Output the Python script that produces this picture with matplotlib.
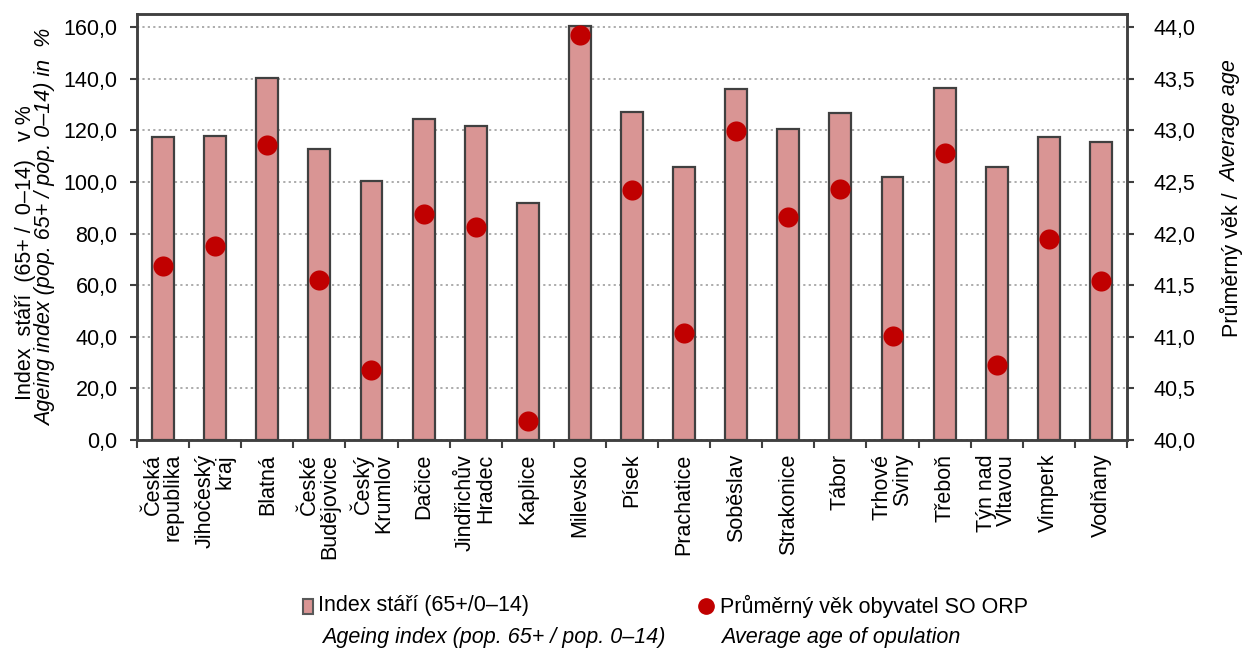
import matplotlib
matplotlib.use("Agg")
import matplotlib.pyplot as plt
from matplotlib.ticker import FuncFormatter, FixedLocator
from matplotlib.patches import Rectangle
from matplotlib.lines import Line2D

plt.rcParams['font.family'] = ['Liberation Sans', 'DejaVu Sans']

categories = ["Česká\nrepublika", "Jihočeský\nkraj", "Blatná", "České\nBudějovice",
              "Český\nKrumlov", "Dačice", "Jindřichův\nHradec", "Kaplice", "Milevsko",
              "Písek", "Prachatice", "Soběslav", "Strakonice", "Tábor", "Trhové\nSviny",
              "Třeboň", "Týn nad\nVltavou", "Vimperk", "Vodňany"]
ageing_index = [117.3, 117.9, 140.4, 112.6, 100.2, 124.3, 121.8, 91.8, 160.5,
                127.2, 105.7, 135.9, 120.4, 126.6, 101.8, 136.5, 105.7, 117.3, 115.6]
average_age = [41.69, 41.88, 42.86, 41.55, 40.68, 42.19, 42.06, 40.18, 43.92,
               42.42, 41.04, 42.99, 42.16, 42.43, 41.01, 42.78, 40.73, 41.95, 41.54]
left_ticks = [0, 20, 40, 60, 80, 100, 120, 140, 160]
right_ticks = [40.0, 40.5, 41.0, 41.5, 42.0, 42.5, 43.0, 43.5, 44.0]

FS = 15.5
SPINE = '#404040'

fig = plt.figure(figsize=(12.45, 6.52), dpi=100)
ax = fig.add_axes([137/1245, 1-440/652, (1127-137)/1245, (440-14)/652])
ax2 = ax.twinx()

x = list(range(len(categories)))
ax.bar(x, ageing_index, width=0.42, color='#D99594', edgecolor=SPINE, linewidth=1.6, zorder=3)
ax2.scatter(x, average_age, s=210, color='#C00000', zorder=4, linewidths=0)

ax.set_xlim(-0.5, len(categories) - 0.5)
ax.set_ylim(0, 165.05)
ax2.set_ylim(40, 40 + 165.05 / 40)

ax.yaxis.set_major_locator(FixedLocator(left_ticks))
ax2.yaxis.set_major_locator(FixedLocator(right_ticks))
fmt = FuncFormatter(lambda v, p: f"{v:.1f}".replace('.', ','))
ax.yaxis.set_major_formatter(fmt)
ax2.yaxis.set_major_formatter(fmt)

ax.grid(axis='y', color='#A6A6A6', linestyle=(0, (1.2, 1.8)), linewidth=1.3, zorder=0)
ax.set_axisbelow(True)

# x ticks at category boundaries, labels at centres
ax.set_xticks([i - 0.5 for i in range(len(categories) + 1)])
ax.set_xticklabels([])
ax.set_xticks(x, minor=True)
ax.set_xticklabels(categories, minor=True, rotation=90, ha='center', va='top',
                   multialignment='right', fontsize=FS, linespacing=0.95)
ax.tick_params(axis='x', which='major', direction='out', length=6, width=1.5, color=SPINE)
ax.tick_params(axis='x', which='minor', length=0, pad=10)
ax.tick_params(axis='y', direction='out', length=5, width=1.5, color=SPINE, labelsize=FS, pad=9)
ax2.tick_params(axis='y', direction='out', length=5, width=1.5, color=SPINE, labelsize=FS, pad=14)

for a in (ax, ax2):
    for s in a.spines.values():
        s.set_color(SPINE)
        s.set_linewidth(1.8)

# axis titles
fig.text(26/1245, 1-253/652, "Index  stáří  (65+ /  0–14)   v %", rotation=90,
         ha='center', va='center', fontsize=FS)
fig.text(46/1245, 1-227/652, "Ageing index (pop. 65+ / pop. 0–14) in  %", rotation=90,
         ha='center', va='center', fontsize=FS, style='italic')
fig.text(1231/1245, 1-186/652, "Průměrný věk / ", rotation=90,
         ha='center', va='top', fontsize=FS)
fig.text(1231/1245, 1-182/652, "Average age", rotation=90,
         ha='center', va='bottom', fontsize=FS, style='italic')

# legend
fig.add_artist(Rectangle((303/1245, 1-614/652), 10/1245, 15/652, transform=fig.transFigure,
                         facecolor='#D99594', edgecolor='#595959', linewidth=1.5))
fig.text(318/1245, 1-606/652, "Index stáří (65+/0–14)", ha='left', va='center', fontsize=FS)
fig.text(322/1245, 1-638/652, "Ageing index (pop. 65+ / pop. 0–14)", ha='left', va='center',
         fontsize=FS, style='italic')
fig.add_artist(Line2D([706/1245], [1-606/652], transform=fig.transFigure, marker='o',
                      markersize=11, color='#C00000', linestyle='none'))
fig.text(720/1245, 1-606/652, "Průměrný věk obyvatel SO ORP", ha='left', va='center', fontsize=FS)
fig.text(721/1245, 1-638/652, "Average age of opulation", ha='left', va='center',
         fontsize=FS, style='italic')

fig.savefig("out.png", dpi=100)
